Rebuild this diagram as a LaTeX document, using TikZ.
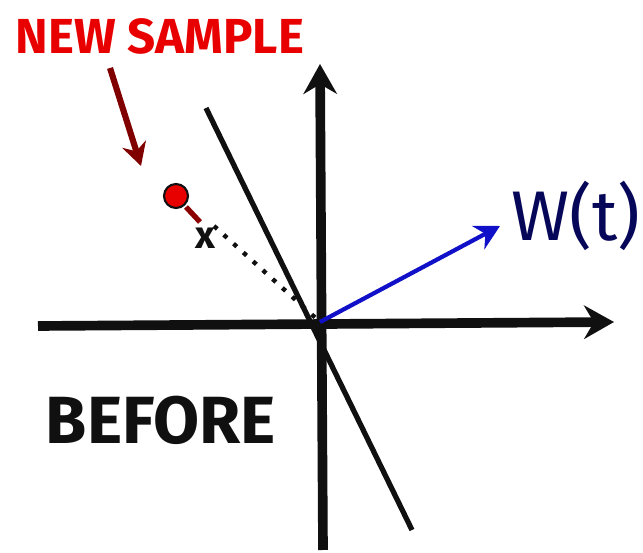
\documentclass[tikz,border=0pt]{standalone}
\usepackage{fontspec}
\setsansfont{Fira Sans}
\usetikzlibrary{arrows.meta}
\definecolor{wblue}{HTML}{1010C8}
\definecolor{inkred}{HTML}{E80000}
\definecolor{ink}{HTML}{101010}

\begin{document}
\begin{tikzpicture}[x=0.02cm, y=-0.02cm, >={Stealth[length=17pt, width=19pt]}]

\useasboundingbox (0,0) rectangle (643,553);

% --- Axes ---
\coordinate (O) at (320,322);
\coordinate (xmin) at (38,326);
\coordinate (xmax) at (614,322);
\coordinate (ymin) at (323,550);
\coordinate (ymax) at (320,64);
\draw[ink, line width=5.5pt, ->] (xmin) -- (xmax);
\draw[ink, line width=5.5pt, ->] (ymin) -- (ymax);

% --- Boundary line ---
\coordinate (btop) at (206,108);
\coordinate (bbot) at (412,530);
\draw[ink, line width=3pt] (btop) -- (bbot);

% --- Weight vector ---
\coordinate (wtip) at (500,226);
\draw[wblue, line width=2.4pt, -{Stealth[length=14pt, width=15pt]}] (O) -- (wtip);
\node[text=wblue!45!black, font=\sffamily\fontsize{40}{40}\selectfont, anchor=west] (wlabel) at (505,216) {W(t)};

% --- New sample ---
\coordinate (sample) at (176,196);
\fill[inkred] (sample) circle (12);
\draw[ink, line width=1.2pt] (sample) circle (12);
\coordinate (tailA) at (186,207);
\coordinate (tailB) at (200,222);
\draw[inkred!60!black, line width=3pt] (tailA) -- (tailB);
\node[text=ink, font=\sffamily\bfseries\fontsize{22}{22}\selectfont] (xlabel) at (205,238) {x};

% dotted projection to origin
\coordinate (dstart) at (214,226);
\draw[ink, line width=2.5pt, dash pattern=on 2.5pt off 5pt] (dstart) -- (O);

% --- Labels ---
\node[text=inkred, font=\sffamily\bfseries\fontsize{28}{28}\selectfont] (newlabel) at (160,36) {NEW SAMPLE};
\coordinate (pfrom) at (110,68);
\coordinate (pto) at (141,166);
\draw[inkred!55!black, line width=3.5pt, -{Stealth[length=13pt, width=14pt]}] (pfrom) -- (pto);

\node[text=ink, font=\sffamily\bfseries\fontsize{38}{38}\selectfont] (beforelabel) at (161,420) {BEFORE};

\end{tikzpicture}
\end{document}
